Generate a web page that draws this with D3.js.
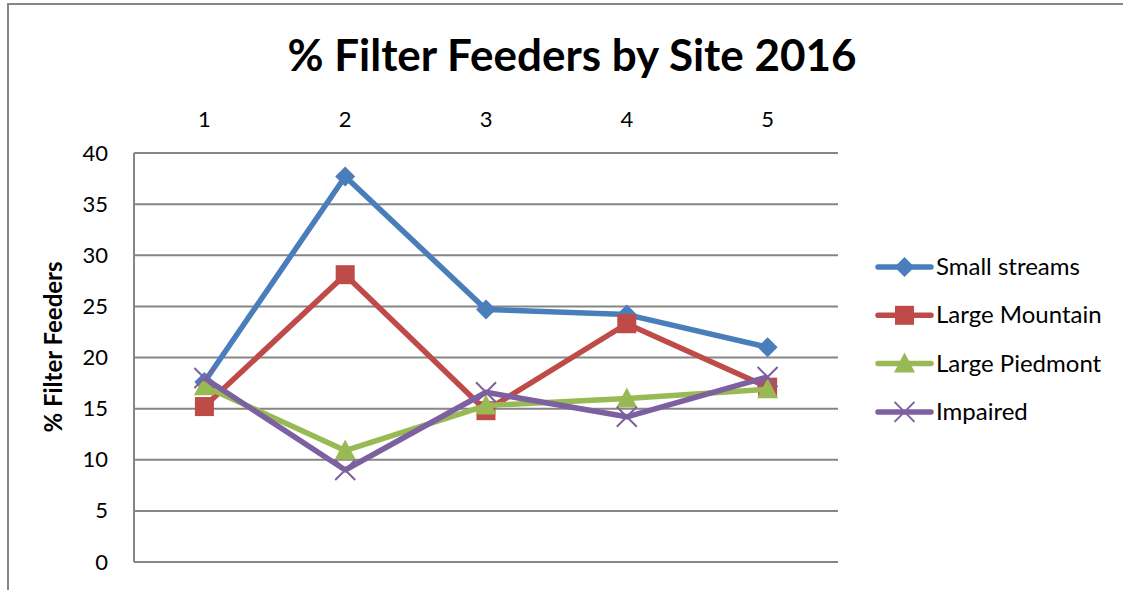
<!DOCTYPE html>
<html><head><meta charset="utf-8">
<script src="https://cdn.jsdelivr.net/npm/d3@7"></script>
<style>body{margin:0;background:#fff}svg{display:block}text{font-family:Lato,"Open Sans",sans-serif;fill:#000}</style>
</head><body>
<svg id="c" width="1123" height="590"></svg>
<script>
const sites = ["1","2","3","4","5"];
const yTicks = [0,5,10,15,20,25,30,35,40];
const seriesNames = ["Small streams","Large Mountain","Large Piedmont","Impaired"];
const smallStreams = [17.6, 37.7, 24.7, 24.2, 21.0];
const largeMountain = [15.2, 28.1, 14.8, 23.3, 17.1];
const largePiedmont = [17.2, 10.9, 15.3, 16.0, 16.9];
const impaired = [18.0, 9.0, 16.6, 14.2, 18.1];
const colors = ["#4a7ebb","#be4b48","#98b954","#7d60a0"];
const symbols = ["diamond","square","triangle","x"];
const values = [smallStreams, largeMountain, largePiedmont, impaired];

const svg = d3.select("#c");
svg.append("rect").attr("x",8).attr("y",4).attr("width",1200).attr("height",700)
  .attr("fill","none").attr("stroke","#868686").attr("stroke-width",2);

const L=134,R=838,T=153,B=562;
const x = d3.scaleBand().domain(sites).range([L,R]);
const y = d3.scaleLinear().domain([0,40]).range([B,T]);

svg.append("g").selectAll("line").data(yTicks).join("line")
  .attr("x1",L).attr("x2",R).attr("y1",d=>y(d)).attr("y2",d=>y(d))
  .attr("stroke","#868686").attr("stroke-width",2);
svg.append("line").attr("x1",L).attr("x2",L).attr("y1",T).attr("y2",B)
  .attr("stroke","#868686").attr("stroke-width",2);

const ya = svg.append("g").attr("transform",`translate(${L},0)`)
  .call(d3.axisLeft(y).tickValues(yTicks).tickSize(0).tickPadding(26));
ya.select(".domain").remove();
ya.selectAll("text").attr("font-size",22).attr("font-family","Lato,'Open Sans',sans-serif").attr("fill","#000");

const xa = svg.append("g").attr("transform",`translate(0,${T})`)
  .call(d3.axisTop(x).tickSize(0).tickPadding(26));
xa.select(".domain").remove();
xa.selectAll("text").attr("font-size",22).attr("font-family","Lato,'Open Sans',sans-serif").attr("fill","#000");

svg.append("text").attr("x",572).attr("y",71).attr("text-anchor","middle")
  .attr("font-size",44).attr("font-weight","bold").text("% Filter Feeders by Site 2016");
svg.append("text").attr("transform","translate(62,347) rotate(-90)").attr("text-anchor","middle")
  .attr("font-size",24).attr("font-weight","bold").text("% Filter Feeders");

function drawMarker(g, type, color, cx, cy){
  if(type==="diamond"){
    g.append("path").attr("d",`M${cx},${cy-10}L${cx+10},${cy}L${cx},${cy+10}L${cx-10},${cy}Z`).attr("fill",color);
  } else if(type==="square"){
    g.append("rect").attr("x",cx-9.5).attr("y",cy-9.5).attr("width",19).attr("height",19).attr("fill",color);
  } else if(type==="triangle"){
    g.append("path").attr("d",`M${cx},${cy-11}L${cx+10.5},${cy+9}L${cx-10.5},${cy+9}Z`).attr("fill",color);
  } else {
    g.append("path").attr("d",`M${cx-10},${cy-10}L${cx+10},${cy+10}M${cx-10},${cy+10}L${cx+10},${cy-10}`).attr("stroke",color).attr("stroke-width",2).attr("fill","none");
  }
}

const line = d3.line().x((d,i)=>x(sites[i])+x.bandwidth()/2).y(d=>y(d));
values.forEach((vals,k)=>{
  const g = svg.append("g");
  g.append("path").attr("d",line(vals)).attr("fill","none").attr("stroke",colors[k])
    .attr("stroke-width",5.5).attr("stroke-linejoin","round");
  vals.forEach((v,i)=>drawMarker(g, symbols[k], colors[k], x(sites[i])+x.bandwidth()/2, y(v)));
});

seriesNames.forEach((n,k)=>{
  const ly = 267 + k*48.3;
  const g = svg.append("g");
  g.append("line").attr("x1",878).attr("x2",931).attr("y1",ly).attr("y2",ly)
    .attr("stroke",colors[k]).attr("stroke-width",5.5).attr("stroke-linecap","round");
  drawMarker(g, symbols[k], colors[k], 904.5, ly);
  g.append("text").attr("x",936).attr("y",ly+8).attr("font-size",24).text(n);
});
</script>
</body></html>
